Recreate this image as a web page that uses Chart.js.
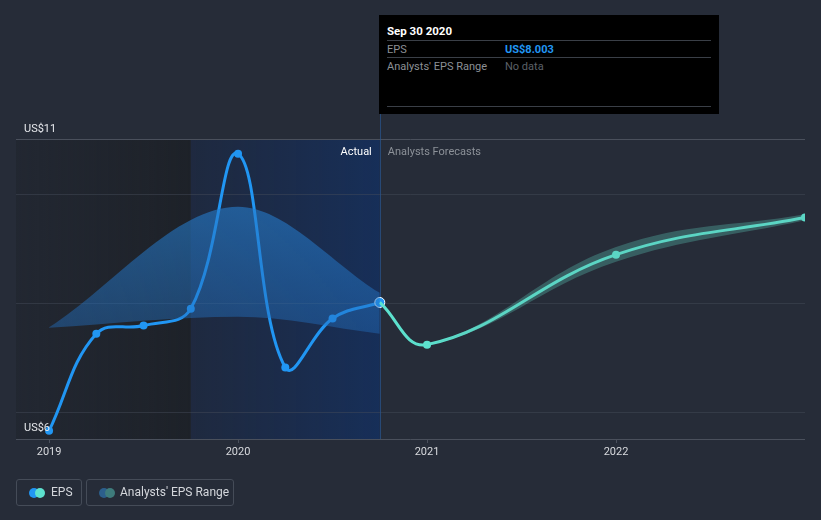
<!DOCTYPE html>
<html>
<head>
<meta charset="utf-8">
<script src="https://cdn.jsdelivr.net/npm/chart.js@4/dist/chart.umd.min.js"></script>
<style>
html,body{margin:0;padding:0;background:#262c38;}
#wrap{position:relative;width:821px;height:520px;font-family:Roboto,"Open Sans",sans-serif;}
canvas{position:absolute;left:0;top:0;}
.tip{position:absolute;left:379px;top:15px;width:340px;height:99px;background:#000;color:#fff;font-size:11px;}
.tip .t{position:absolute;left:8px;top:9px;font-weight:bold;font-size:11.5px;}
.tip .ln{position:absolute;left:8px;width:324px;height:1px;background:#3a3f47;}
.tip .r{position:absolute;left:8px;color:#8c9096;}
.tip .v{position:absolute;left:126px;}
.leg{position:absolute;top:479px;height:27px;border:1px solid #454c58;border-radius:3px;color:#d4d7dc;font-size:12px;line-height:25px;box-sizing:border-box;}
.dot{position:absolute;top:8px;width:10px;height:10px;border-radius:50%;}
</style>
</head>
<body>
<div id="wrap">
<canvas id="c" width="821" height="520"></canvas>
<div class="tip">
  <div class="t">Sep 30 2020</div>
  <div class="ln" style="top:25px"></div>
  <div class="r" style="top:28px">EPS</div>
  <div class="v" style="top:28px;color:#2196f3;font-weight:bold">US$8.003</div>
  <div class="ln" style="top:42px"></div>
  <div class="r" style="top:45px">Analysts' EPS Range</div>
  <div class="v" style="top:45px;color:#5c6068">No data</div>
  <div class="ln" style="top:91px"></div>
</div>
<div class="leg" style="left:16px;width:66px;">
  <span class="dot" style="left:12px;background:#2196f3"></span>
  <span class="dot" style="left:18px;background:#5de2cf"></span>
  <span style="position:absolute;left:34px">EPS</span>
</div>
<div class="leg" style="left:86px;width:148px;">
  <span class="dot" style="left:12px;background:#2c5f8c"></span>
  <span class="dot" style="left:18px;background:#3e7c7c"></span>
  <span style="position:absolute;left:33px">Analysts' EPS Range</span>
</div>
</div>
<script>
// ---- data ----
const actualX = [2019.0, 2019.25, 2019.5, 2019.75, 2020.0, 2020.25, 2020.5, 2020.75];
const actualEPS = [5.65, 7.43, 7.58, 7.89, 10.73, 6.81, 7.71, 8.003];
const forecastX = [2020.75, 2021.0, 2022.0, 2023.0];
const forecastEPS = [8.003, 7.23, 8.88, 9.56];
const forecastLow = [8.003, 7.23, 8.75, 9.51];
const forecastHigh = [8.003, 7.23, 9.02, 9.62];
const pastRangeX = [2019.0, 2020.0, 2020.75];
const pastRangeHigh = [7.55, 9.76, 8.18];
const pastRangeLow = [7.54, 7.74, 7.43];
const gridValues = [6, 8, 10, 11];
const yLabels = [{v: 11, t: 'US$11'}, {v: 6, t: 'US$6'}];
const xTickYears = [2019, 2020, 2021, 2022];
const actualStartShade = 2019.75;
const actualEnd = 2020.75;

const pts = (xs, ys) => xs.map((x, i) => ({x, y: ys[i]}));

const bgPlugin = {
  id: 'bg',
  beforeDatasetsDraw(chart) {
    const {ctx, chartArea: a, scales: {x, y}} = chart;
    const xs = x.getPixelForValue(actualStartShade);
    const xe = x.getPixelForValue(actualEnd);
    ctx.save();
    let g = ctx.createLinearGradient(a.left, 0, xs, 0);
    g.addColorStop(0, 'rgba(30,34,42,0.45)');
    g.addColorStop(1, 'rgba(28,32,38,0.85)');
    ctx.fillStyle = g;
    ctx.fillRect(a.left, a.top, xs - a.left, a.bottom - a.top);
    g = ctx.createLinearGradient(xs, 0, xe, 0);
    g.addColorStop(0, 'rgba(25,40,70,0.55)');
    g.addColorStop(1, 'rgba(18,48,100,0.75)');
    ctx.fillStyle = g;
    ctx.fillRect(xs, a.top, xe - xs, a.bottom - a.top);
    gridValues.forEach(v => {
      const py = Math.round(y.getPixelForValue(v)) + 0.5;
      ctx.strokeStyle = v === 11 ? '#4a505c' : 'rgba(70,78,92,0.45)';
      ctx.lineWidth = 1;
      ctx.beginPath(); ctx.moveTo(a.left, py); ctx.lineTo(a.right, py); ctx.stroke();
    });
    ctx.strokeStyle = '#4a505c';
    ctx.beginPath(); ctx.moveTo(a.left, a.bottom + 0.5); ctx.lineTo(a.right, a.bottom + 0.5); ctx.stroke();
    ctx.strokeStyle = 'rgba(40,85,145,0.7)';
    ctx.beginPath(); ctx.moveTo(Math.round(xe) + 0.5, 114); ctx.lineTo(Math.round(xe) + 0.5, a.bottom); ctx.stroke();
    ctx.restore();
  },
  afterDraw(chart) {
    const {ctx, chartArea: a, scales: {x, y}} = chart;
    ctx.save();
    ctx.font = '11px Roboto, sans-serif';
    ctx.textBaseline = 'alphabetic';
    ctx.fillStyle = '#e6e8ec';
    ctx.textAlign = 'left';
    ctx.fillText(yLabels[0].t, 24, y.getPixelForValue(yLabels[0].v) - 7);
    ctx.fillText(yLabels[1].t, 24, y.getPixelForValue(yLabels[1].v) + 19);
    ctx.textAlign = 'center';
    ctx.fillStyle = '#d8dade';
    xTickYears.forEach(yr => {
      const px = x.getPixelForValue(yr);
      ctx.fillText(String(yr), px, 455);
      ctx.strokeStyle = '#4a505c';
      ctx.beginPath(); ctx.moveTo(Math.round(px) + 0.5, a.bottom); ctx.lineTo(Math.round(px) + 0.5, a.bottom + 4); ctx.stroke();
    });
    const xe = x.getPixelForValue(actualEnd);
    ctx.textAlign = 'right';
    ctx.fillStyle = '#ffffff';
    ctx.fillText('Actual', xe - 8, 155);
    ctx.textAlign = 'left';
    ctx.fillStyle = '#8c9198';
    ctx.fillText('Analysts Forecasts', xe + 8, 155);
    ctx.restore();
  }
};

const ctx = document.getElementById('c').getContext('2d');
new Chart(ctx, {
  type: 'line',
  data: {
    datasets: [
      {
        data: pts(pastRangeX, pastRangeHigh),
        borderWidth: 0, pointRadius: 0, cubicInterpolationMode: 'monotone',
        fill: '+1',
        backgroundColor: (c) => {
          const a = c.chart.chartArea;
          if (!a) return 'rgba(33,120,200,0.5)';
          const g = c.chart.ctx.createLinearGradient(0, a.top + 60, 0, a.top + 200);
          g.addColorStop(0, 'rgba(38,125,205,0.62)');
          g.addColorStop(1, 'rgba(35,110,190,0.42)');
          return g;
        }
      },
      {
        data: pts(pastRangeX, pastRangeLow),
        borderWidth: 0, pointRadius: 0, cubicInterpolationMode: 'monotone', fill: false
      },
      {
        data: pts(forecastX, forecastHigh),
        borderWidth: 0, pointRadius: 0, tension: 0.4,
        fill: '+1', backgroundColor: 'rgba(90,190,175,0.35)'
      },
      {
        data: pts(forecastX, forecastLow),
        borderWidth: 0, pointRadius: 0, tension: 0.4, fill: false
      },
      {
        data: pts(forecastX, forecastEPS),
        borderColor: '#5de2cf', backgroundColor: '#5de2cf',
        borderWidth: 3, tension: 0.4,
        pointRadius: [0, 4, 4, 4], pointBorderWidth: 0, fill: false
      },
      {
        data: pts(actualX, actualEPS),
        borderColor: '#2196f3', backgroundColor: '#2196f3',
        borderWidth: 3, tension: 0.4,
        pointRadius: [4, 4, 4, 4, 4, 4, 4, 5],
        pointBorderWidth: [0, 0, 0, 0, 0, 0, 0, 1],
        pointBorderColor: '#ffffff', fill: false
      }
    ]
  },
  options: {
    responsive: false,
    animation: false,
    layout: {padding: {left: 16, right: 16, top: 139, bottom: 81}},
    plugins: {legend: {display: false}, tooltip: {enabled: false}},
    scales: {
      x: {type: 'linear', display: false, min: 2018.825, max: 2023.0},
      y: {type: 'linear', display: false, min: 5.5, max: 11}
    }
  },
  plugins: [bgPlugin]
});
</script>
</body>
</html>
